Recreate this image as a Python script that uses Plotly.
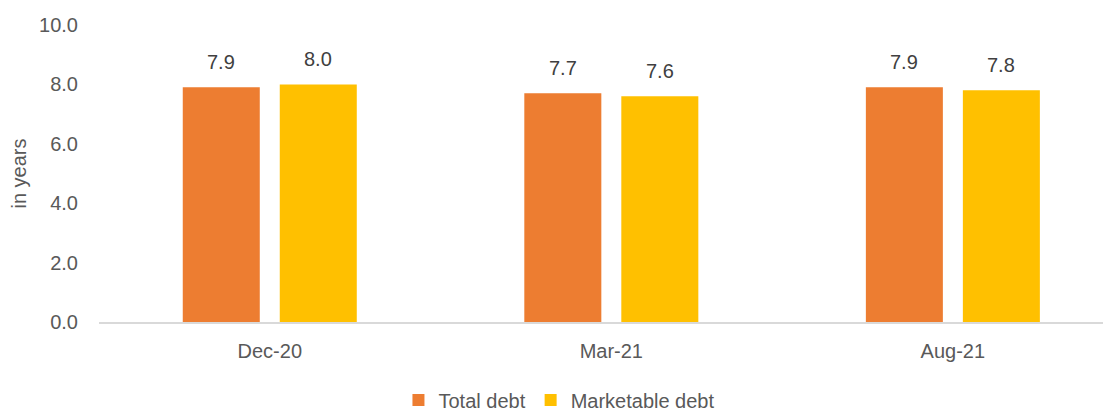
import plotly.graph_objects as go

categories = ["Dec-20", "Mar-21", "Aug-21"]
total_debt = [7.9, 7.7, 7.9]
marketable_debt = [8.0, 7.6, 7.8]
y_ticks = [0, 2, 4, 6, 8, 10]

FONT = "Liberation Sans, Arial, sans-serif"
TXT = "#595959"

fig = go.Figure()
fig.add_trace(go.Bar(x=categories, y=total_debt, name="Total debt",
                     marker=dict(color="#ED7D31", line=dict(width=0))))
fig.add_trace(go.Bar(x=categories, y=marketable_debt, name="Marketable debt",
                     marker=dict(color="#FFC000", line=dict(width=0))))

for vals, shift in ((total_debt, -48.5), (marketable_debt, 48.5)):
    for c, v in zip(categories, vals):
        fig.add_annotation(x=c, y=v, text=f"{v:.1f}", showarrow=False,
                           xshift=shift, yshift=25, yanchor="middle",
                           font=dict(family=FONT, size=20, color="#404040"))

# page body has an 8px default margin, so the figure is sized to fit the window
fig.update_layout(
    width=1103, height=406,
    margin=dict(l=91, r=0, t=17, b=92, autoexpand=False),
    paper_bgcolor="white", plot_bgcolor="white",
    barmode="group", bargap=0.432, bargroupgap=0.206,
    font=dict(family=FONT, size=20, color=TXT),
    showlegend=True,
    legend=dict(orientation="h", x=0.455, xanchor="center", y=-0.263, yanchor="middle",
                font=dict(family=FONT, size=20, color=TXT), itemwidth=30,
                traceorder="normal"),
    xaxis=dict(range=[-0.5, 2.463], showgrid=False, showline=True, automargin=False,
               linecolor="#D9D9D9", linewidth=2, ticks="", ticklabelstandoff=10,
               tickfont=dict(family=FONT, size=20, color=TXT)),
    yaxis=dict(range=[0, 10], tickvals=y_ticks, tickformat=".1f", showgrid=False,
               zeroline=False, showline=False, ticks="", ticklabelstandoff=20,
               automargin=False,
               tickfont=dict(family=FONT, size=20, color=TXT),
               title=dict(text="in years", standoff=12,
                          font=dict(family=FONT, size=20, color=TXT))),
)

fig.write_html("out.html")
